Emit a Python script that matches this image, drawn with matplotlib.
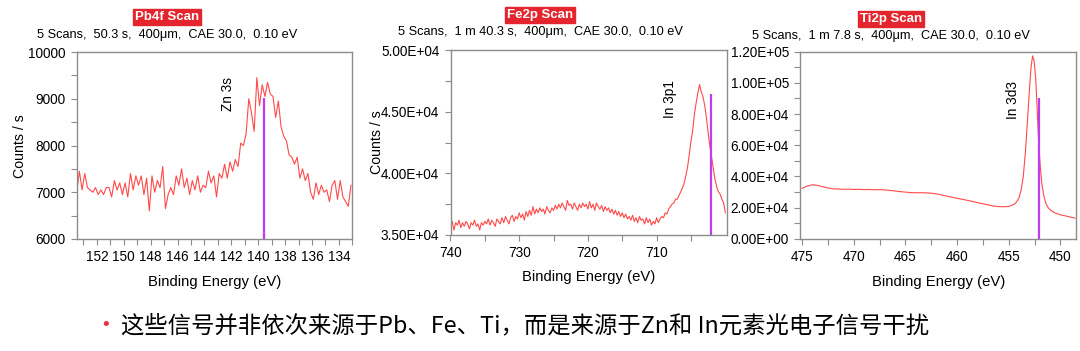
import numpy as np
import matplotlib
matplotlib.use("Agg")
import matplotlib.pyplot as plt
from matplotlib.ticker import MultipleLocator, FixedLocator

# ---------------- data ----------------
# Panel 1: Pb4f scan (Zn 3s interference)
pb_energy = [153.5, 153.3, 153.1, 152.9, 152.7, 152.5, 152.3, 152.1, 151.9, 151.7,
             151.5, 151.3, 151.1, 150.9, 150.7, 150.5, 150.3, 150.1, 149.9, 149.7,
             149.5, 149.3, 149.1, 148.9, 148.7, 148.5, 148.3, 148.1, 147.9, 147.7,
             147.5, 147.3, 147.1, 146.9, 146.7, 146.5, 146.3, 146.1, 145.9, 145.7,
             145.5, 145.3, 145.1, 144.9, 144.7, 144.5, 144.3, 144.1, 143.9, 143.7,
             143.5, 143.3, 143.1, 142.9, 142.7, 142.5, 142.3, 142.1, 141.9, 141.7,
             141.5, 141.3, 141.1, 140.9, 140.7, 140.5, 140.3, 140.1, 139.9, 139.7,
             139.5, 139.3, 139.1, 138.9, 138.7, 138.5, 138.3, 138.1, 137.9, 137.7,
             137.5, 137.3, 137.1, 136.9, 136.7, 136.5, 136.3, 136.1, 135.9, 135.7,
             135.5, 135.3, 135.1, 134.9, 134.7, 134.5, 134.3, 134.1, 133.9, 133.7,
             133.5, 133.3, 133.1]
pb_counts = [7000, 7450, 7050, 7400, 7100, 7050, 7000, 7100, 6950, 7050,
             6950, 7100, 7100, 6900, 7250, 7050, 7200, 6950, 7200, 6900,
             7400, 7050, 7350, 7150, 7350, 6950, 7300, 6600, 7350, 7000,
             7250, 7100, 7550, 6650, 6950, 7100, 6950, 7350, 7150, 7500,
             7100, 7300, 6950, 7250, 7050, 7350, 7000, 7150, 7100, 7450,
             7200, 7350, 6900, 7400, 7300, 7600, 7300, 7650, 7450, 7700,
             7550, 8050, 8000, 8250, 9000, 8700, 8300, 9450, 8850, 9300,
             9050, 9350, 9100, 9050, 8600, 8950, 8400, 8200, 8100, 7800,
             7750, 7600, 7750, 7300, 7500, 7250, 7400, 7000, 6850, 7200,
             6950, 7150, 7000, 7050, 6800, 7150, 7250, 6850, 7250, 6900,
             6800, 6700, 7150]
pb_peak_pos = 139.6
pb_peak_height = 9020
pb_peak_label = "Zn 3s"

# Panel 2: Fe2p scan (In 3p1 interference), counts in units of 1000
fe_energy = [740.00, 739.75, 739.50, 739.25, 739.00, 738.75, 738.50, 738.25, 738.00, 737.75,
             737.50, 737.25, 737.00, 736.75, 736.50, 736.25, 736.00, 735.75, 735.50, 735.25,
             735.00, 734.75, 734.50, 734.25, 734.00, 733.75, 733.50, 733.25, 733.00, 732.75,
             732.50, 732.25, 732.00, 731.75, 731.50, 731.25, 731.00, 730.75, 730.50, 730.25,
             730.00, 729.75, 729.50, 729.25, 729.00, 728.75, 728.50, 728.25, 728.00, 727.75,
             727.50, 727.25, 727.00, 726.75, 726.50, 726.25, 726.00, 725.75, 725.50, 725.25,
             725.00, 724.75, 724.50, 724.25, 724.00, 723.75, 723.50, 723.25, 723.00, 722.75,
             722.50, 722.25, 722.00, 721.75, 721.50, 721.25, 721.00, 720.75, 720.50, 720.25,
             720.00, 719.75, 719.50, 719.25, 719.00, 718.75, 718.50, 718.25, 718.00, 717.75,
             717.50, 717.25, 717.00, 716.75, 716.50, 716.25, 716.00, 715.75, 715.50, 715.25,
             715.00, 714.75, 714.50, 714.25, 714.00, 713.75, 713.50, 713.25, 713.00, 712.75,
             712.50, 712.25, 712.00, 711.75, 711.50, 711.25, 711.00, 710.75, 710.50, 710.25,
             710.00, 709.75, 709.50, 709.25, 709.00, 708.75, 708.50, 708.25, 708.00, 707.75,
             707.50, 707.25, 707.00, 706.75, 706.50, 706.25, 706.00, 705.75, 705.50, 705.25,
             705.00, 704.75, 704.50, 704.25, 704.00, 703.75, 703.50, 703.25, 703.00, 702.75,
             702.50, 702.25, 702.00, 701.75, 701.50, 701.25, 701.00, 700.75, 700.50, 700.25,
             700.00]
fe_counts_k = [35.6, 36.1, 35.4, 36.0, 35.8, 36.2, 35.6, 36.0, 35.7, 36.1,
               35.9, 35.5, 36.0, 35.8, 36.2, 35.7, 35.9, 35.4, 36.0, 35.8,
               36.1, 35.9, 36.3, 35.8, 36.2, 36.0, 35.7, 36.3, 36.1, 35.9,
               36.4, 36.0, 36.5, 36.2, 35.9, 36.4, 36.6, 36.1, 36.5, 36.3,
               36.8, 36.4, 36.7, 36.2, 36.9, 36.5, 37.0, 36.6, 37.3, 36.7,
               37.1, 36.8, 37.2, 36.9, 37.1, 36.7, 37.3, 37.0, 36.8, 37.2,
               37.0, 37.4, 37.1, 37.5, 37.2, 37.6, 37.3, 37.0, 37.8, 37.4,
               37.5, 37.1, 37.6, 37.3, 37.0, 37.5, 37.2, 37.6, 37.3, 37.5,
               37.1, 37.7, 37.2, 37.5, 37.0, 37.6, 37.3, 37.1, 37.4, 36.9,
               37.3, 37.0, 37.2, 36.8, 37.1, 36.7, 37.0, 36.6, 36.9, 36.5,
               36.8, 36.4, 36.7, 36.3, 36.5, 36.2, 36.6, 36.1, 36.4, 36.0,
               36.5, 36.2, 36.3, 35.9, 36.4, 36.0, 36.3, 35.8, 36.1, 35.9,
               36.4, 36.0, 36.3, 36.5, 36.4, 36.8, 36.7, 37.1, 37.3, 37.5,
               37.6, 37.9, 37.9, 38.2, 38.5, 38.8, 39.2, 39.8, 40.5, 41.5,
               42.6, 43.5, 44.8, 45.7, 46.5, 47.2, 46.6, 46.2, 45.5, 44.5,
               43.3, 42.2, 41.3, 40.4, 39.5, 38.9, 38.5, 38.3, 37.9, 37.6,
               36.8]
fe_peak_pos = 702.15
fe_peak_height_k = 46.4
fe_peak_label = "In 3p1"

# Panel 3: Ti2p scan (In 3d3 interference), counts in units of 1000
ti_energy = [475.0, 474.5, 474.0, 473.5, 473.0, 472.5, 472.0, 471.5, 471.0, 470.5,
             470.0, 469.5, 469.0, 468.5, 468.0, 467.5, 467.0, 466.5, 466.0, 465.5,
             465.0, 464.5, 464.0, 463.5, 463.0, 462.5, 462.0, 461.5, 461.0, 460.5,
             460.0, 459.5, 459.0, 458.5, 458.0, 457.5, 457.0, 456.5, 456.0, 455.5,
             455.0, 454.75, 454.5, 454.25, 454.0, 453.8, 453.6, 453.4, 453.2, 453.0,
             452.85, 452.7, 452.55, 452.4, 452.25, 452.1, 451.95, 451.8, 451.6, 451.4,
             451.2, 451.0, 450.75, 450.5, 450.0, 449.5, 449.0, 448.6]
ti_counts_k = [32.3, 33.8, 34.6, 34.2, 33.3, 32.6, 32.0, 31.9, 31.7, 31.8,
               31.6, 31.7, 31.5, 31.6, 31.4, 31.5, 31.3, 31.0, 30.6, 30.2,
               29.9, 29.6, 29.5, 29.5, 29.4, 29.2, 28.8, 28.1, 27.3, 26.6,
               25.9, 25.3, 24.6, 23.9, 23.1, 22.4, 21.7, 21.0, 20.6, 20.5,
               20.7, 21.3, 22.0, 23.5, 26.5, 31.5, 40.0, 55.0, 75.0, 96.0,
               110.0, 117.3, 114.0, 103.0, 82.0, 60.0, 46.0, 35.0, 27.0, 22.5,
               20.0, 18.5, 17.3, 16.5, 15.3, 14.6, 13.8, 13.2]
ti_peak_pos = 452.1
ti_peak_height_k = 90.0
ti_peak_label = "In 3d3"

titles = ["Pb4f Scan", "Fe2p Scan", "Ti2p Scan"]
subtitles = ["5 Scans,  50.3 s,  400\u03bcm,  CAE 30.0,  0.10 eV",
             "5 Scans,  1 m 40.3 s,  400\u03bcm,  CAE 30.0,  0.10 eV",
             "5 Scans,  1 m 7.8 s,  400\u03bcm,  CAE 30.0,  0.10 eV"]
caption = "这些信号并非依次来源于Pb、Fe、Ti，而是来源于Zn和 In元素光电子信号干扰"

# ---------------- style ----------------
plt.rcParams['font.family'] = ['Liberation Sans', 'DejaVu Sans']
LINE = '#ff4a4a'
MARK = '#c03cf0'
SPINE = '#8c8c8c'
BOXRED = '#e5252d'

W, H = 1080, 351
fig = plt.figure(figsize=(W / 100, H / 100), dpi=100)


def px_axes(l, t, r, b):
    return fig.add_axes([l / W, 1 - b / H, (r - l) / W, (b - t) / H])


def style(ax):
    for s in ax.spines.values():
        s.set_color(SPINE)
        s.set_linewidth(1.0)
    ax.tick_params(which='both', direction='out', color=SPINE, length=4, width=0.8,
                   labelsize=9.8, pad=3, top=False, right=False)
    ax.tick_params(which='major', pad=4)


def sci(v, pos):
    m = f"{v:.2E}"
    mant, exp = m.split("E")
    sign = exp[0]
    e = int(exp[1:])
    return f"{mant}E{sign}{e:02d}"


# Panel 1
ax1 = px_axes(76.7, 52, 352.3, 239)
ax1.plot(pb_energy, pb_counts, color=LINE, lw=0.8)
ax1.vlines(pb_peak_pos, 6000, pb_peak_height, color=MARK, lw=1.6)
ax1.set_xlim(153.5, 133.0)
ax1.set_ylim(6000, 10000)
ax1.xaxis.set_major_locator(MultipleLocator(2))
ax1.xaxis.set_minor_locator(MultipleLocator(1))
ax1.yaxis.set_major_locator(MultipleLocator(1000))
ax1.yaxis.set_minor_locator(MultipleLocator(500))
style(ax1)
ax1.text(142.25, 9100, pb_peak_label, rotation=90, ha='center', va='center', fontsize=9.8)

# Panel 2
ax2 = px_axes(450.5, 50, 726.7, 235)
ax2.plot(fe_energy, np.array(fe_counts_k) * 1000, color=LINE, lw=0.8)
ax2.vlines(fe_peak_pos, 35000, fe_peak_height_k * 1000, color=MARK, lw=1.6)
ax2.set_xlim(740, 699.8)
ax2.set_ylim(35000, 50000)
ax2.xaxis.set_major_locator(FixedLocator([740, 730, 720, 710]))
ax2.xaxis.set_minor_locator(FixedLocator([735, 725, 715, 705]))
ax2.yaxis.set_major_locator(MultipleLocator(5000))
ax2.yaxis.set_minor_locator(MultipleLocator(2500))
ax2.yaxis.set_major_formatter(plt.FuncFormatter(sci))
style(ax2)
ax2.text(708.1, 46000, fe_peak_label, rotation=90, ha='center', va='center', fontsize=9.8)

# Panel 3
ax3 = px_axes(800, 51.7, 1076, 238.7)
ax3.plot(ti_energy, np.array(ti_counts_k) * 1000, color=LINE, lw=0.8)
ax3.vlines(ti_peak_pos, 0, ti_peak_height_k * 1000, color=MARK, lw=1.6)
ax3.set_xlim(475.2, 448.5)
ax3.set_ylim(0, 120000)
ax3.xaxis.set_major_locator(MultipleLocator(5))
ax3.xaxis.set_minor_locator(MultipleLocator(2.5))
ax3.yaxis.set_major_locator(MultipleLocator(20000))
ax3.yaxis.set_minor_locator(MultipleLocator(10000))
ax3.yaxis.set_major_formatter(plt.FuncFormatter(sci))
style(ax3)
ax3.text(454.6, 89000, ti_peak_label, rotation=90, ha='center', va='center', fontsize=9.8)

# axis labels (placed in pixels)
for cx, cy in [(215, 282), (589, 277), (939, 282)]:
    fig.text(cx / W, 1 - cy / H, "Binding Energy (eV)", ha='center', va='center', fontsize=10.7)
for cx, cy in [(20, 146), (377, 142)]:
    fig.text(cx / W, 1 - cy / H, "Counts / s", ha='center', va='center', rotation=90, fontsize=10.2)

# titles
for (tx, ty, sy), t, st in zip([(167, 17, 35), (540, 15, 32), (891, 19, 36)], titles, subtitles):
    fig.text(tx / W, 1 - ty / H, t, ha='center', va='center', fontsize=9.5, color='white',
             fontweight='bold',
             bbox=dict(boxstyle='square,pad=0.15', facecolor=BOXRED, edgecolor=BOXRED))
    fig.text(tx / W, 1 - sy / H, st, ha='center', va='center', fontsize=9.2)

# caption
fig.text(106 / W, 1 - 325 / H, "\u2022", ha='center', va='center', fontsize=14, color='#e8323c')
fig.text(121 / W, 1 - 326 / H, caption, ha='left', va='center', fontsize=16.8,
         family=['Noto Sans CJK SC', 'DejaVu Sans'])

fig.savefig("out.png", dpi=100)
